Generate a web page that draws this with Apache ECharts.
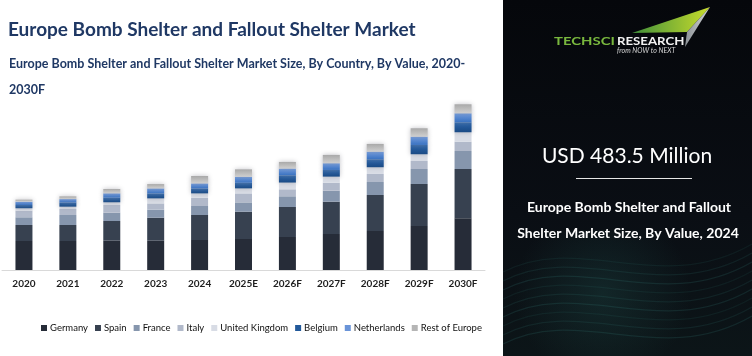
<!DOCTYPE html>
<html><head><meta charset="utf-8">
<script src="https://cdn.jsdelivr.net/npm/echarts@6/dist/echarts.min.js"></script>
<style>html,body{margin:0;padding:0;background:#fff;overflow:hidden}#c{width:752px;height:356px}</style>
</head><body><div id="c"></div>
<script>
// ---- data (USD Million) ----
const categories = ['2020','2021','2022','2023','2024','2025E','2026F','2027F','2028F','2029F','2030F'];
const germany     = [149.2,149.2,150.7,150.7,154.3,159.5,169.8,185.2,200.6,226.3,265.9];
const spain       = [ 82.3, 82.3,101.3,118.3,128.6,140.4,154.3,166.2,185.2,216.0,253.6];
const france      = [ 39.6, 51.4, 42.7, 41.2, 46.3, 47.8, 55.0, 56.6, 66.9, 77.2, 92.6];
const italy       = [ 34.0, 30.9, 39.6, 32.4, 42.7, 46.3, 36.0, 41.2, 41.2, 41.2, 47.8];
const uk          = [ 12.3, 11.8, 13.9, 25.7, 22.1, 25.7, 34.5, 30.9, 34.5, 34.5, 48.4];
const belgium     = [ 17.0, 22.1, 23.7, 25.7, 25.7, 28.8, 37.6, 34.5, 41.2, 47.8, 51.4];
const netherlands = [ 17.0, 17.0, 22.6, 25.7, 25.7, 30.9, 34.5, 34.5, 39.1, 42.7, 46.3];
const restOfEurope= [ 10.3, 13.9, 22.1, 22.1, 38.1, 38.1, 34.0, 42.7, 39.6, 43.2, 46.3];
const seriesNames = ['Germany','Spain','France','Italy','United Kingdom','Belgium','Netherlands','Rest of Europe'];
const seriesData  = [germany, spain, france, italy, uk, belgium, netherlands, restOfEurope];

// ---- styles ----
const solidColors = ['#262c38','#374150','#8696ad','#b1b9ca','#d8dce5','#22599a','#6a94d8','#b5b5b5'];
function grad(top, bottom){ return new echarts.graphic.LinearGradient(0,0,0,1,[{offset:0,color:top},{offset:1,color:bottom}]); }
const fills = [
  '#262c38','#374150','#8696ad','#b1b9ca','#d8dce5',
  grad('#2a64ab','#1a4a84'),
  grad('#6f9be0','#3a72c0'),
  grad('#a9a9a9','#cfcfcf')
];
const FONT = 'Lato';

const chart = echarts.init(document.getElementById('c'), null, {renderer:'canvas'});

const series = seriesNames.map((n,i)=>({
  name:n, type:'bar', stack:'total', barWidth:17, data:seriesData[i],
  itemStyle: Object.assign({color:fills[i]}, i>=5 ? {shadowBlur:5, shadowColor:'rgba(140,140,150,0.55)'} : {}),
  emphasis:{disabled:true}
}));

const waves = [];
for (let k=0;k<9;k++){
  const y0 = 262 + k*9;
  waves.push({type:'bezierCurve', silent:true,
    shape:{x1:503,y1:y0+10,x2:752,y2:y0-18,cpx1:580,cpy1:y0-30,cpx2:660,cpy2:y0+35},
    style:{stroke:'rgba(60,150,140,'+(0.10+0.03*(k%3))+')', lineWidth:1.2, fill:null}});
}

chart.setOption({
  animation:false,
  backgroundColor:'#ffffff',
  grid:{left:2, right:267, top:95, bottom:86, containLabel:false},
  xAxis:{type:'category', data:categories,
    axisLine:{lineStyle:{color:'#d9d9d9', width:1}},
    axisTick:{show:false},
    axisLabel:{color:'#1e1e1e', fontSize:10, fontWeight:'bold', fontFamily:FONT, margin:9}},
  yAxis:{type:'value', min:0, max:900, show:false, splitLine:{show:false}},
  legend:{left:36, top:318, width:480, itemWidth:6, itemHeight:6, itemGap:7, icon:'rect',
    textStyle:{fontSize:9.5, color:'#111', fontFamily:FONT, fontWeight:'normal', padding:[0,0,0,-2]},
    data: seriesNames.map((n,i)=>({name:n, itemStyle:{color:solidColors[i]}}))},
  series: series,
  graphic:[
    {type:'text', left:8, top:20, style:{text:'Europe Bomb Shelter and Fallout Shelter Market', font:'bold 19px '+FONT, fill:'#1f3864'}},
    {type:'text', left:9, top:57, style:{text:'Europe Bomb Shelter and Fallout Shelter Market Size, By Country, By Value, 2020-', font:'bold 12.5px '+FONT, fill:'#1f3864'}},
    {type:'text', left:9, top:83, style:{text:'2030F', font:'bold 12.5px '+FONT, fill:'#1f3864'}},
    // right panel
    {type:'rect', silent:true, shape:{x:503,y:0,width:249,height:356},
      style:{fill:new echarts.graphic.LinearGradient(0,0,0,1,[{offset:0,color:'#05070b'},{offset:0.6,color:'#0a0e14'},{offset:1,color:'#0c1518'}])}},
    {type:'rect', silent:true, shape:{x:503,y:230,width:249,height:126},
      style:{fill:new echarts.graphic.RadialGradient(0.4,0.5,0.7,[{offset:0,color:'rgba(40,100,95,0.25)'},{offset:1,color:'rgba(40,100,95,0)'}])}},
    ...waves,
    {type:'polygon', silent:true, shape:{points:[[632,33],[710,7],[687,32]]},
      style:{fill:new echarts.graphic.LinearGradient(0,0,1,0,[{offset:0,color:'#3f8f3a'},{offset:1,color:'#c9dc2c'}])}},
    {type:'polygon', silent:true, shape:{points:[[687,32],[710,7],[685,47]]},
      style:{fill:new echarts.graphic.LinearGradient(0,0,1,0,[{offset:0,color:'#8b9196'},{offset:1,color:'#d5d7d8'}])}},
    {type:'text', x:554, y:36, scaleX:1.35, style:{text:'TECHSCI', font:'bold 11px '+FONT, fill:'#79b83e'}},
    {type:'text', x:617, y:36, scaleX:1.2, style:{text:'RESEARCH', font:'bold 11px '+FONT, fill:'#f2f2f2'}},
    {type:'text', left:617, top:47, style:{text:'from NOW to NEXT', font:'italic 7px '+FONT, fill:'#d8d8d8'}},
    {type:'text', x:627, y:156, style:{text:'USD 483.5 Million', font:'21px '+FONT, fill:'#ffffff', align:'center', verticalAlign:'middle'}},
    {type:'line', silent:true, shape:{x1:576,y1:178.5,x2:692,y2:178.5}, style:{stroke:'#e6e6e6', lineWidth:1}},
    {type:'text', x:629, y:207, style:{text:'Europe Bomb Shelter and Fallout', font:'bold 14px '+FONT, fill:'#ffffff', align:'center', verticalAlign:'middle'}},
    {type:'text', x:628, y:233, style:{text:'Shelter Market Size, By Value, 2024', font:'bold 14px '+FONT, fill:'#ffffff', align:'center', verticalAlign:'middle'}}
  ]
});
</script>
</body></html>
